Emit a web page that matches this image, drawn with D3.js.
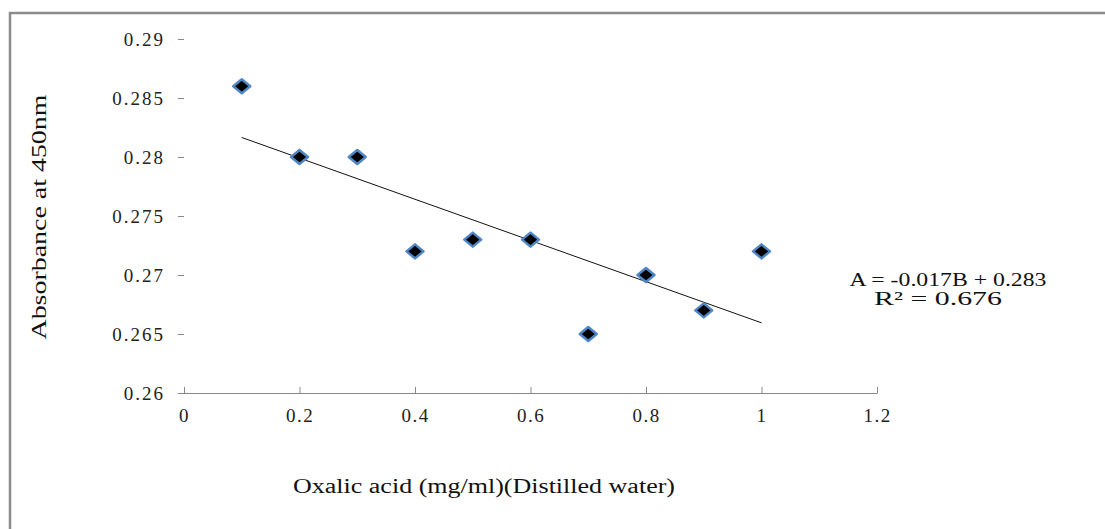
<!DOCTYPE html>
<html>
<head>
<meta charset="utf-8">
<script src="https://cdn.jsdelivr.net/npm/d3@7"></script>
<style>
  html, body { margin: 0; padding: 0; background: #fff; }
</style>
</head>
<body>
<svg id="chart" width="1105" height="529"></svg>
<script>
// Oxalic acid concentration vs absorbance
const concentration = [0.1, 0.2, 0.3, 0.4, 0.5, 0.6, 0.7, 0.8, 0.9, 1.0];
const absorbance = [0.286, 0.280, 0.280, 0.272, 0.273, 0.273, 0.265, 0.270, 0.267, 0.272];
const xTicks = [0, 0.2, 0.4, 0.6, 0.8, 1, 1.2];
const yTicks = [0.26, 0.265, 0.27, 0.275, 0.28, 0.285, 0.29];
const xTitle = "Oxalic acid (mg/ml)(Distilled water)";
const yTitle = "Absorbance at 450nm";
const equationLines = ["A = -0.017B + 0.283", "R\u00B2 = 0.676"];

const SERIF = "'Liberation Serif', 'Times New Roman', Times, serif";
const svg = d3.select("#chart");

// outer frame (top and left edges)
svg.append("path")
  .attr("d", "M10,1000 L10,13 L1200,13")
  .attr("fill", "none").attr("stroke", "#8c8c8c").attr("stroke-width", 2.5);

const x = d3.scaleLinear().domain([0, 1.2]).range([184, 877]);
const y = d3.scaleLinear().domain([0.26, 0.29]).range([393, 39]);

// x axis
const xAxis = svg.append("g").attr("transform", "translate(0,393)")
  .call(d3.axisBottom(x).tickValues(xTicks).tickSize(6).tickSizeOuter(0)
    .tickFormat(d => String(d)));
xAxis.attr("font-family", SERIF);
xAxis.select(".domain").attr("stroke", "#888").attr("d", "M178,0.5H877.5");
xAxis.selectAll(".tick line").attr("stroke", "#888").attr("y1", -6).attr("y2", 0);
xAxis.selectAll(".tick text")
  .attr("y", 16).attr("dy", "0.71em").attr("fill", "#222")
  .style("font-family", SERIF)
  .style("font-size", "19px").style("letter-spacing", "1.5px");

// y axis: ticks only
const yAxis = svg.append("g").attr("transform", "translate(184,0)")
  .call(d3.axisLeft(y).tickValues(yTicks).tickSize(6).tickFormat(d => String(+d.toFixed(3))));
yAxis.select(".domain").remove();
yAxis.selectAll(".tick line").attr("stroke", "#888");
yAxis.selectAll(".tick text")
  .attr("x", -19).attr("fill", "#222")
  .style("font-family", SERIF)
  .style("font-size", "19px").style("letter-spacing", "2px");

// least-squares trend line
const n = concentration.length;
const mx = d3.mean(concentration), my = d3.mean(absorbance);
let sxy = 0, sxx = 0;
for (let i = 0; i < n; i++) {
  sxy += (concentration[i] - mx) * (absorbance[i] - my);
  sxx += (concentration[i] - mx) ** 2;
}
const slope = sxy / sxx, intercept = my - slope * mx;
const x0 = d3.min(concentration), x1 = d3.max(concentration);
svg.append("line")
  .attr("x1", x(x0)).attr("y1", y(intercept + slope * x0))
  .attr("x2", x(x1)).attr("y2", y(intercept + slope * x1))
  .attr("stroke", "#111").attr("stroke-width", 1);

// diamond markers
const points = concentration.map((c, i) => [c, absorbance[i]]);
svg.append("g").selectAll("path")
  .data(points).join("path")
  .attr("transform", d => `translate(${x(d[0])},${y(d[1])})`)
  .attr("d", "M-8.5,0 L0,-7 L8.5,0 L0,7 Z")
  .attr("fill", "#000")
  .attr("stroke", "#4f86c6").attr("stroke-width", 2.5)
  .attr("stroke-linejoin", "round");

// axis titles
svg.append("text")
  .attr("x", 484).attr("y", 493)
  .attr("text-anchor", "middle")
  .attr("textLength", 382).attr("lengthAdjust", "spacingAndGlyphs")
  .attr("fill", "#111")
  .style("font-family", SERIF).style("font-size", "20px")
  .text(xTitle);

svg.append("text")
  .attr("transform", "translate(46,217) rotate(-90)")
  .attr("text-anchor", "middle")
  .attr("textLength", 245).attr("lengthAdjust", "spacingAndGlyphs")
  .attr("fill", "#111")
  .style("font-family", SERIF).style("font-size", "20px")
  .text(yTitle);

// regression equation
svg.append("text")
  .attr("x", 948).attr("y", 286).attr("text-anchor", "middle")
  .attr("textLength", 197).attr("lengthAdjust", "spacingAndGlyphs")
  .attr("fill", "#111")
  .style("font-family", SERIF).style("font-size", "19px").text(equationLines[0]);
svg.append("text")
  .attr("x", 938).attr("y", 305).attr("text-anchor", "middle")
  .attr("textLength", 128).attr("lengthAdjust", "spacingAndGlyphs")
  .attr("fill", "#111")
  .style("font-family", SERIF).style("font-size", "19px").text(equationLines[1]);
</script>
</body>
</html>
